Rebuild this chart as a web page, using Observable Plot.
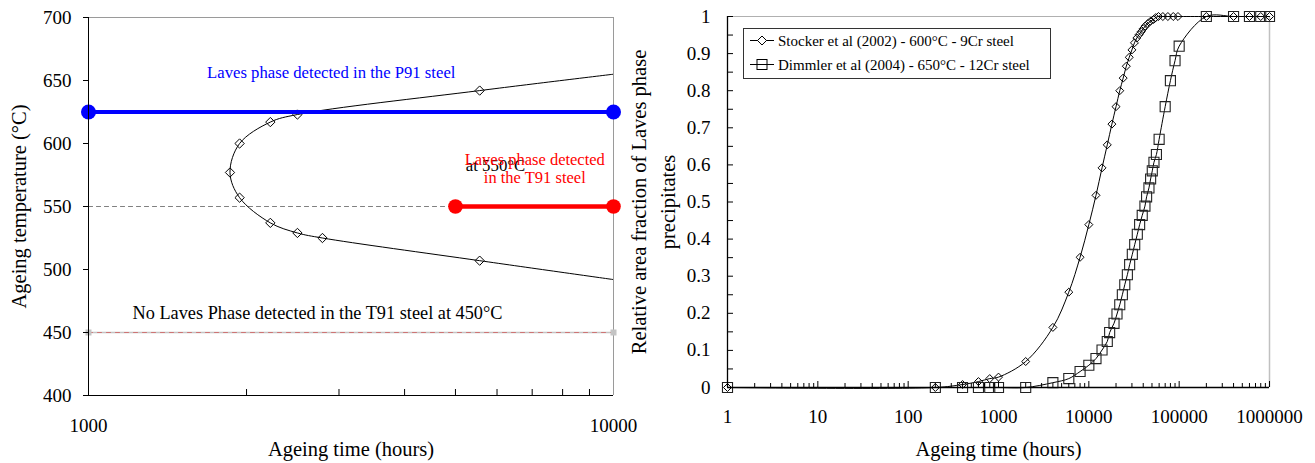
<!DOCTYPE html>
<html>
<head>
<meta charset="utf-8">
<script src="https://cdn.jsdelivr.net/npm/d3@7"></script>
<script src="https://cdn.jsdelivr.net/npm/@observablehq/plot@0.6"></script>
<style>
  html, body { margin: 0; padding: 0; background: white; }
  #wrap { position: relative; width: 1315px; height: 463px; display: flex; font-family: "Liberation Serif", serif; background: white; }
  #legend { position: absolute; left: 743px; top: 28px; }
</style>
</head>
<body>
<div id="wrap">
  <div id="left"></div>
  <div id="right"></div>
  <div id="legend"></div>
</div>
<script>
// ---------- Left panel data ----------
const leftYTicks = [400, 450, 500, 550, 600, 650, 700];
const leftXLabels = [1000, 10000];
const ttpTime = [10000, 5560, 2500, 2220, 1940, 1860, 1940, 2220, 2500, 2790, 5560, 10000];
const ttpTemp = [655, 642, 623, 617, 600, 577, 557, 537, 529, 525, 507, 492];
const ttpMarker = [false, true, true, true, true, true, true, true, true, true, true, false];
const p91Time = [1000, 10000];
const p91Temp = [625, 625];
const t91Time = [5000, 10000];
const t91Temp = [550, 550];
const dash550Time = [1000, 5000];
const dash550Temp = [550, 550];
const no450Time = [1000, 10000];
const no450Temp = [450, 450];

// ---------- Right panel data ----------
const rightYTicks = [0, 0.1, 0.2, 0.3, 0.4, 0.5, 0.6, 0.7, 0.8, 0.9, 1];
const rightXLabels = [1, 10, 100, 1000, 10000, 100000, 1000000];
const stockerTime = [1, 200, 400, 600, 800, 1000, 2000, 4000, 6000, 8000, 10000,
  12000, 14000, 16000, 18000, 20000, 22000, 24000, 26000, 28000, 30000,
  32000, 34000, 36000, 38000, 40000, 42000, 45000, 48000, 52000, 55000,
  59000, 66000, 75000, 86000, 97000, 200000, 400000, 600000, 800000, 1000000];
const stockerFrac = [0, 0, 0.008, 0.016, 0.024, 0.028, 0.07, 0.162, 0.257, 0.351, 0.439,
  0.518, 0.592, 0.654, 0.71, 0.757, 0.8, 0.834, 0.866, 0.89, 0.91,
  0.929, 0.942, 0.951, 0.959, 0.967, 0.974, 0.981, 0.987, 0.992, 0.997,
  1, 1, 1, 1, 1, 1, 1, 1, 1, 1];
const dimmlerTime = [1, 200, 400, 600, 800, 1000, 2000, 4000, 6000, 8000, 10000, 12000, 14000, 16000,
  17000, 19000, 20500, 22000, 23500, 25000, 26700, 28300, 30300, 32200,
  34400, 36500, 39000, 41800, 43600, 46300, 48300, 50400, 52600, 56000,
  60000, 70000, 80000, 90000, 100000, 200000, 400000, 600000, 800000, 1000000];
const dimmlerFrac = [0, 0, 0, 0, 0, 0, 0, 0.013, 0.024, 0.043, 0.06, 0.078, 0.101, 0.124,
  0.148, 0.173, 0.198, 0.223, 0.25, 0.277, 0.304, 0.331, 0.359, 0.385,
  0.413, 0.439, 0.464, 0.489, 0.514, 0.538, 0.562, 0.584, 0.607, 0.628,
  0.669, 0.757, 0.827, 0.881, 0.92, 1, 1, 1, 1, 1];
const legendLabels = ["Stocker et al (2002) - 600°C - 9Cr steel", "Dimmler et al (2004) - 650°C - 12Cr steel"];

// ---------- helpers ----------
const zip = (xs, ys) => xs.map((x, i) => ({x, y: ys[i]}));
function logMinor(lo, hi) {
  const out = [];
  for (let d = lo; d < hi; d *= 10) for (let k = 2; k <= 9; k++) out.push(d * k);
  return out;
}
function decades(lo, hi) {
  const out = [];
  for (let d = lo; d <= hi; d *= 10) out.push(d);
  return out;
}
const FONT = '"Liberation Serif", serif';
const TITLE = 20.5;

// ---------- Left plot ----------
const ttp = ttpTime.map((t, i) => ({x: t, y: ttpTemp[i], m: ttpMarker[i]}));
const leftPlot = Plot.plot({
  width: 630, height: 463,
  marginLeft: 88, marginRight: 17, marginTop: 17, marginBottom: 68,
  x: {type: "log", domain: [1000, 10000]},
  y: {domain: [400, 700]},
  style: {fontFamily: FONT, fontSize: "18px", background: "white", color: "black", overflow: "visible"},
  marks: [
    Plot.ruleY([700], {stroke: "#9a9a9a"}),
    Plot.ruleX([10000], {stroke: "#9a9a9a"}),
    // 450 line
    Plot.line(zip(no450Time, no450Temp), {x: "x", y: "y", stroke: "#c4c4c4", strokeWidth: 1.6}),
    Plot.line(zip(no450Time, no450Temp), {x: "x", y: "y", stroke: "#d06060", strokeWidth: 0.8, strokeDasharray: "4,5"}),
    Plot.dot(zip(no450Time, no450Temp), {x: "x", y: "y", symbol: "square", fill: "#c4c4c4", r: 3.4}),
    // dashed 550
    Plot.line(zip(dash550Time, dash550Temp), {x: "x", y: "y", stroke: "#808080", strokeWidth: 1.2, strokeDasharray: "4,4"}),
    // TTP curve
    Plot.line(ttp, {x: "x", y: "y", curve: "catmull-rom", stroke: "black", strokeWidth: 1, clip: true}),
    Plot.dot(ttp.filter(d => d.m), {x: "x", y: "y", symbol: "diamond2", stroke: "black", fill: "none", r: 4.2, strokeWidth: 1}),
    // P91 blue
    Plot.line(zip(p91Time, p91Temp), {x: "x", y: "y", stroke: "#0000ff", strokeWidth: 4}),
    Plot.dot(zip(p91Time, p91Temp), {x: "x", y: "y", fill: "#0000ff", r: 7.5}),
    // T91 red
    Plot.line(zip(t91Time, t91Temp), {x: "x", y: "y", stroke: "#ff0000", strokeWidth: 4.5}),
    Plot.dot(zip(t91Time, t91Temp), {x: "x", y: "y", fill: "#ff0000", r: 7.3}),
    // annotations
    Plot.text(["Laves phase detected in the P91 steel"], {x: 2900, y: 656, fill: "#0000ff", fontSize: 16.7}),
    Plot.text(["at 550°C"], {x: 5960, y: 582.5, fill: "black", fontSize: 16.8}),
    Plot.text(["Laves phase detected\nin the T91 steel"], {x: 7080, y: 580.5, fill: "#ff0000", fontSize: 16.5, lineHeight: 1.1}),
    Plot.text(["No Laves Phase detected in the T91 steel at 450°C"], {x: 2730, y: 465, fill: "black", fontSize: 18.3}),
    // axes
    Plot.ruleX([1000], {stroke: "black"}),
    Plot.ruleY([400], {stroke: "black"}),
    Plot.axisY({ticks: leftYTicks, tickSize: 5, tickPadding: 12, label: null, fontSize: 19}),
    Plot.axisX({ticks: leftXLabels, tickSize: 0, tickPadding: 23, label: null, fontSize: 19, tickFormat: d => String(d)}),
    Plot.axisX({ticks: logMinor(1000, 10000), tickSize: -6, label: null, tickFormat: () => ""}),
    Plot.text(["Ageing time (hours)"], {frameAnchor: "bottom", dy: 60, fontSize: TITLE}),
    Plot.text(["Ageing temperature (°C)"], {frameAnchor: "left", textAnchor: "middle", dx: -69, rotate: -90, fontSize: TITLE})
  ]
});
document.getElementById("left").appendChild(leftPlot);

// ---------- Right plot ----------
const rightPlot = Plot.plot({
  width: 685, height: 463,
  marginLeft: 97, marginRight: 46, marginTop: 16, marginBottom: 76,
  x: {type: "log", domain: [1, 1000000]},
  y: {domain: [0, 1]},
  style: {fontFamily: FONT, fontSize: "18px", background: "transparent", color: "black", overflow: "visible"},
  marks: [
    Plot.ruleY([1], {stroke: "#b0b0b0"}),
    Plot.ruleX([1000000], {stroke: "#c0c0c0", strokeWidth: 1.5}),
    Plot.line(zip(stockerTime, stockerFrac), {x: "x", y: "y", curve: "catmull-rom", stroke: "black", strokeWidth: 1}),
    Plot.dot(zip(stockerTime, stockerFrac), {x: "x", y: "y", symbol: "diamond2", stroke: "black", fill: "none", r: 3.6, strokeWidth: 1}),
    Plot.line(zip(dimmlerTime, dimmlerFrac), {x: "x", y: "y", curve: "catmull-rom", stroke: "black", strokeWidth: 1}),
    Plot.dot(zip(dimmlerTime, dimmlerFrac), {x: "x", y: "y", symbol: "square2", stroke: "#222", fill: "none", r: 6.4, strokeWidth: 1.1}),
    Plot.ruleX([1], {stroke: "black", strokeWidth: 1.3}),
    Plot.ruleY([0], {stroke: "black", strokeWidth: 1.3}),
    Plot.axisY({ticks: rightYTicks, tickSize: 0, tickPadding: 17, label: null, fontSize: 19, tickFormat: d => String(d)}),
    Plot.axisY({ticks: d3.range(0, 1.0001, 0.05), tickSize: -6, label: null, tickFormat: () => ""}),
    Plot.axisX({ticks: rightXLabels, tickSize: 0, tickPadding: 22, label: null, fontSize: 19, tickFormat: d => String(d)}),
    Plot.axisX({ticks: decades(1, 1000000), tickSize: -6, label: null, tickFormat: () => ""}),
    Plot.axisX({ticks: logMinor(1, 1000000), tickSize: -4, label: null, tickFormat: () => ""}),
    Plot.text(["Ageing time (hours)"], {frameAnchor: "bottom", dy: 68, fontSize: TITLE}),
    Plot.text(["Relative area fraction of Laves phase\nprecipitates"], {frameAnchor: "left", textAnchor: "middle", dx: -76, rotate: -90, fontSize: TITLE, lineHeight: 1.42})
  ]
});
document.getElementById("right").appendChild(rightPlot);

// ---------- Legend ----------
const lg = d3.select("#legend").append("svg").attr("width", 309).attr("height", 52)
  .style("font-family", FONT).style("font-size", "15px");
lg.append("rect").attr("x", 0.5).attr("y", 0.5).attr("width", 307).attr("height", 50)
  .attr("fill", "white").attr("stroke", "#333");
legendLabels.forEach((lab, i) => {
  const cy = 12.5 + i * 24;
  lg.append("line").attr("x1", 7).attr("x2", 31).attr("y1", cy).attr("y2", cy).attr("stroke", "black");
  if (i === 0) {
    lg.append("path").attr("d", `M19,${cy-4.5}L23.5,${cy}L19,${cy+4.5}L14.5,${cy}Z`).attr("fill", "white").attr("stroke", "black");
  } else {
    lg.append("rect").attr("x", 14).attr("y", cy - 5).attr("width", 10).attr("height", 10).attr("fill", "none").attr("stroke", "black");
  }
  lg.append("text").attr("x", 35).attr("y", cy).attr("dy", "0.35em").text(lab);
});
</script>
</body>
</html>
